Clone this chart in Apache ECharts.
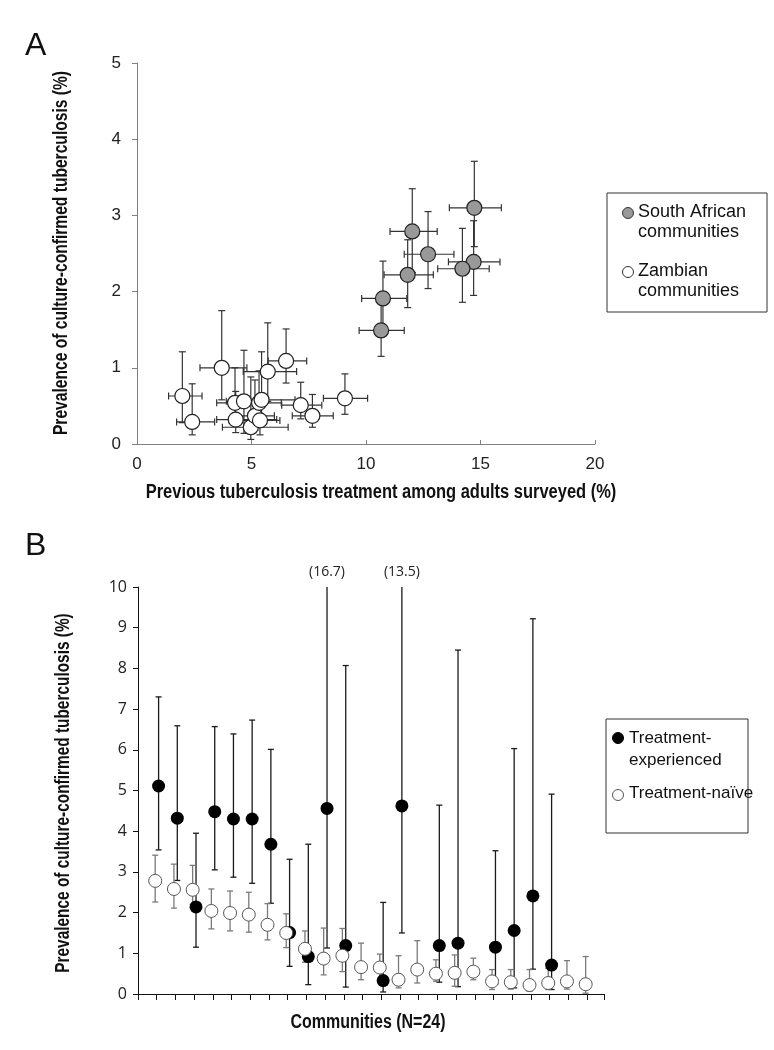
<!DOCTYPE html>
<html>
<head>
<meta charset="utf-8">
<title></title>
<script src="https://cdn.jsdelivr.net/npm/echarts@6/dist/echarts.min.js"></script>
<style type="text/css">
	html, body { margin: 0; padding: 0; background: #fff; }
	#main { width: 774px; height: 1050px; }
</style>
</head>
<body>
<div id="main"></div>
<script>
// ---- panel A : previous treatment (x) vs prevalence (y) ----
var saX   = [12.02, 12.71, 11.82, 10.74, 10.66, 14.73, 14.70, 14.21];
var saY   = [2.79, 2.49, 2.22, 1.91, 1.49, 3.10, 2.39, 2.30];
var saXLo = [11.05, 11.67, 10.79, 9.81, 9.70, 13.64, 13.60, 13.13];
var saXHi = [13.11, 13.84, 12.94, 11.78, 11.67, 15.91, 15.85, 15.38];
var saYLo = [2.25, 2.04, 1.79, 1.54, 1.15, 2.59, 1.95, 1.86];
var saYHi = [3.35, 3.05, 2.68, 2.40, 1.86, 3.71, 2.93, 2.83];

var zmX   = [1.98, 2.41, 3.70, 4.28, 4.31, 4.67, 4.97, 5.15, 5.33, 5.44, 5.37, 5.71, 6.51, 7.15, 7.66, 9.08];
var zmY   = [0.63, 0.29, 1.00, 0.54, 0.32, 0.56, 0.22, 0.37, 0.54, 0.58, 0.31, 0.95, 1.09, 0.51, 0.37, 0.60];
var zmXLo = [1.38, 1.73, 2.75, 3.48, 3.48, 3.90, 3.73, 4.20, 4.30, 4.50, 4.40, 4.64, 5.73, 6.32, 6.78, 8.14];
var zmXHi = [2.84, 3.39, 4.80, 5.30, 6.10, 5.50, 6.60, 6.00, 6.30, 6.90, 6.24, 6.97, 7.41, 8.07, 8.57, 10.07];
var zmYLo = [0.28, 0.12, 0.58, 0.30, 0.15, 0.14, 0.06, 0.18, 0.30, 0.35, 0.12, 0.56, 0.80, 0.33, 0.22, 0.39];
var zmYHi = [1.21, 0.79, 1.75, 1.00, 0.69, 1.23, 0.88, 0.84, 0.96, 1.21, 0.65, 1.59, 1.51, 0.81, 0.65, 0.92];

// ---- panel B : 24 communities ----
var communities = [1,2,3,4,5,6,7,8,9,10,11,12,13,14,15,16,17,18,19,20,21,22,23,24];
var expY  = [5.11, 4.32, 2.14, 4.48, 4.30, 4.30, 3.68, 1.51, 0.92, 4.56, 1.19, null, 0.33, 4.62, null, 1.19, 1.25, null, 1.15, 1.56, 2.41, 0.71, null, null];
var expLo = [3.54, 2.79, 1.15, 3.05, 2.87, 2.72, 2.23, 0.68, 0.23, 1.13, 0.17, null, 0.05, 1.50, null, 0.29, 0.18, null, 0.25, 0.15, 0.61, 0.11, null, null];
var expHi = [7.30, 6.59, 3.95, 6.57, 6.39, 6.73, 6.01, 3.31, 3.68, 16.7, 8.07, null, 2.25, 13.5, null, 4.64, 8.45, null, 3.52, 6.03, 9.22, 4.91, null, null];
var naiY  = [2.78, 2.58, 2.56, 2.04, 1.99, 1.95, 1.70, 1.50, 1.11, 0.87, 0.94, 0.66, 0.65, 0.35, 0.60, 0.50, 0.52, 0.55, 0.31, 0.29, 0.22, 0.27, 0.31, 0.24];
var naiLo = [2.26, 2.11, 2.20, 1.60, 1.55, 1.52, 1.33, 1.14, 0.78, 0.47, 0.55, 0.35, 0.30, 0.15, 0.27, 0.31, 0.19, 0.35, 0.11, 0.12, 0.07, 0.11, 0.12, 0.02];
var naiHi = [3.41, 3.19, 3.16, 2.58, 2.53, 2.50, 2.22, 1.97, 1.55, 1.62, 1.61, 1.25, 0.98, 0.94, 1.31, 0.84, 0.96, 0.88, 0.60, 0.60, 0.60, 0.63, 0.82, 0.92];

var yTop = 10;
var font = '"Liberation Sans", Arial, sans-serif';
var yName = 'Prevalence of culture-confirmed tuberculosis (%)';

function zipA(x, y, xl, xh, yl, yh) {
	var out = [];
	for (var i = 0; i < x.length; i++) out.push([x[i], y[i], xl[i], xh[i], yl[i], yh[i]]);
	return out;
}
function zipB(y, lo, hi, shift) {
	var out = [];
	for (var i = 0; i < communities.length; i++) {
		if (y[i] == null) continue;
		out.push([communities[i] + shift, y[i], lo[i], hi[i]]);
	}
	return out;
}

function errA(params, api) {
	var x = api.value(0), y = api.value(1);
	var p = api.coord([x, y]);
	var xl = api.coord([api.value(2), y]), xh = api.coord([api.value(3), y]);
	var yl = api.coord([x, api.value(4)]), yh = api.coord([x, api.value(5)]);
	var c = 3.5;
	var st = { stroke: '#333', lineWidth: 1.2 };
	return {
		type: 'group',
		children: [
			{ type: 'line', shape: { x1: xl[0], y1: p[1], x2: xh[0], y2: p[1] }, style: st },
			{ type: 'line', shape: { x1: xl[0], y1: p[1] - c, x2: xl[0], y2: p[1] + c }, style: st },
			{ type: 'line', shape: { x1: xh[0], y1: p[1] - c, x2: xh[0], y2: p[1] + c }, style: st },
			{ type: 'line', shape: { x1: p[0], y1: yl[1], x2: p[0], y2: yh[1] }, style: st },
			{ type: 'line', shape: { x1: p[0] - c, y1: yl[1], x2: p[0] + c, y2: yl[1] }, style: st },
			{ type: 'line', shape: { x1: p[0] - c, y1: yh[1], x2: p[0] + c, y2: yh[1] }, style: st }
		]
	};
}

function errB(color) {
	return function(params, api) {
		var x = api.value(0), hi = api.value(3);
		var lo = api.coord([x, api.value(2)]);
		var top = api.coord([x, Math.min(hi, yTop)]);
		var c = 3;
		var st = { stroke: color, lineWidth: 1.3 };
		var kids = [
			{ type: 'line', shape: { x1: lo[0], y1: lo[1], x2: top[0], y2: top[1] }, style: st },
			{ type: 'line', shape: { x1: lo[0] - c, y1: lo[1], x2: lo[0] + c, y2: lo[1] }, style: st }
		];
		if (hi > yTop) {
			kids.push({ type: 'text', style: { text: '(' + hi + ')', x: top[0], y: top[1] - 8, align: 'center', verticalAlign: 'bottom', fill: '#222', font: '14px "Open Sans", sans-serif' } });
		} else {
			kids.push({ type: 'line', shape: { x1: top[0] - c, y1: top[1], x2: top[0] + c, y2: top[1] }, style: st });
		}
		return { type: 'group', children: kids };
	};
}

// bold axis titles, squeezed along the text to look condensed
function title(text, x, y, rot, sx) {
	return {
		type: 'text', x: x, y: y, rotation: rot ? Math.PI / 2 : 0, scaleX: sx,
		style: { text: text, align: 'center', verticalAlign: 'middle', font: 'bold 20px ' + font, fill: '#111' }
	};
}

var option = {
	animation: false,
	textStyle: { fontFamily: font },
	grid: [
		{ left: 137, top: 63, width: 458, height: 381 },
		{ left: 138, top: 587, width: 466, height: 407 }
	],
	xAxis: [{
		gridIndex: 0, type: 'value', min: 0, max: 20, interval: 5,
		axisLine: { lineStyle: { color: '#808080' } },
		axisTick: { inside: true, length: 4, lineStyle: { color: '#808080' } },
		axisLabel: { fontSize: 17, color: '#222', margin: 12 },
		splitLine: { show: false }
	}, {
		gridIndex: 1, type: 'value', min: 0, max: 24.9, interval: 1,
		axisLine: { lineStyle: { color: '#111' } },
		axisTick: { length: 6, lineStyle: { color: '#111' } },
		axisLabel: { show: false },
		splitLine: { show: false }
	}],
	yAxis: [{
		gridIndex: 0, type: 'value', min: 0, max: 5, interval: 1,
		axisLine: { show: true, lineStyle: { color: '#808080' } },
		axisTick: { show: true, length: 5, lineStyle: { color: '#808080' } },
		axisLabel: { fontSize: 17, color: '#222', margin: 16 },
		splitLine: { show: false }
	}, {
		gridIndex: 1, type: 'value', min: 0, max: 10, interval: 1,
		axisLine: { show: true, lineStyle: { color: '#111' } },
		axisTick: { show: true, length: 5, lineStyle: { color: '#111' } },
		axisLabel: { fontSize: 16, color: '#222', margin: 11, fontFamily: '"Open Sans", sans-serif' },
		splitLine: { show: false }
	}],
	series: [
		{ type: 'custom', xAxisIndex: 0, yAxisIndex: 0, renderItem: errA, z: 1,
		  data: zipA(zmX, zmY, zmXLo, zmXHi, zmYLo, zmYHi) },
		{ type: 'custom', xAxisIndex: 0, yAxisIndex: 0, renderItem: errA, z: 1,
		  data: zipA(saX, saY, saXLo, saXHi, saYLo, saYHi) },
		{ name: 'Zambian communities', type: 'scatter', xAxisIndex: 0, yAxisIndex: 0, z: 3, symbolSize: 15,
		  itemStyle: { color: '#fff', borderColor: '#222', borderWidth: 1.2, opacity: 1 },
		  data: zipA(zmX, zmY, zmXLo, zmXHi, zmYLo, zmYHi) },
		{ name: 'South African communities', type: 'scatter', xAxisIndex: 0, yAxisIndex: 0, z: 3, symbolSize: 15,
		  itemStyle: { color: '#999', borderColor: '#222', borderWidth: 1.2, opacity: 1 },
		  data: zipA(saX, saY, saXLo, saXHi, saYLo, saYHi) },

		{ type: 'custom', xAxisIndex: 1, yAxisIndex: 1, renderItem: errB('#1a1a1a'), z: 1,
		  clip: false, data: zipB(expY, expLo, expHi, 0.1) },
		{ type: 'custom', xAxisIndex: 1, yAxisIndex: 1, renderItem: errB('#7a7a7a'), z: 1,
		  data: zipB(naiY, naiLo, naiHi, -0.08) },
		{ name: 'Treatment-experienced', type: 'scatter', xAxisIndex: 1, yAxisIndex: 1, z: 3, symbolSize: 13,
		  itemStyle: { color: '#000', opacity: 1 },
		  data: zipB(expY, expLo, expHi, 0.1) },
		{ name: 'Treatment-naïve', type: 'scatter', xAxisIndex: 1, yAxisIndex: 1, z: 4, symbolSize: 13,
		  itemStyle: { color: '#fff', borderColor: '#555', borderWidth: 1, opacity: 1 },
		  data: zipB(naiY, naiLo, naiHi, -0.08) }
	],
	graphic: [
		{ type: 'text', left: 25, top: 30, style: { text: 'A', font: '32px ' + font, fill: '#111' } },
		{ type: 'text', left: 25, top: 530, style: { text: 'B', font: '32px ' + font, fill: '#111' } },
		title('Previous tuberculosis treatment among adults surveyed (%)', 381, 492, false, 0.824),
		title(yName, 61, 253, true, 0.78),
		title(yName, 63, 793, true, 0.77),
		title('Communities (N=24)', 368, 1022, false, 0.8),
		// legend A
		{ type: 'rect', shape: { x: 607, y: 193, width: 160, height: 119 }, style: { fill: '#fff', stroke: '#333', lineWidth: 1 } },
		{ type: 'circle', shape: { cx: 628, cy: 213, r: 5.5 }, style: { fill: '#999', stroke: '#333', lineWidth: 1 } },
		{ type: 'text', top: 202, left: 638, style: { text: 'South African\ncommunities', font: '18px ' + font, fill: '#111', lineHeight: 20 } },
		{ type: 'circle', shape: { cx: 628, cy: 272, r: 5.5 }, style: { fill: '#fff', stroke: '#333', lineWidth: 1 } },
		{ type: 'text', top: 261, left: 638, style: { text: 'Zambian\ncommunities', font: '18px ' + font, fill: '#111', lineHeight: 20 } },
		// legend B
		{ type: 'rect', shape: { x: 606, y: 719, width: 142, height: 114 }, style: { fill: '#fff', stroke: '#333', lineWidth: 1 } },
		{ type: 'circle', shape: { cx: 618, cy: 738, r: 5.5 }, style: { fill: '#000', stroke: '#000', lineWidth: 1 } },
		{ type: 'text', top: 727, left: 629, style: { text: 'Treatment-\nexperienced', font: '17px ' + font, fill: '#111', lineHeight: 22 } },
		{ type: 'circle', shape: { cx: 618, cy: 795, r: 5.5 }, style: { fill: '#fff', stroke: '#555', lineWidth: 1 } },
		{ type: 'text', top: 785, left: 629, style: { text: 'Treatment-naïve', font: '17px ' + font, fill: '#111' } }
	]
};

var myChart = echarts.init(document.getElementById('main'));
myChart.setOption(option, true);
</script>
</body>
</html>
